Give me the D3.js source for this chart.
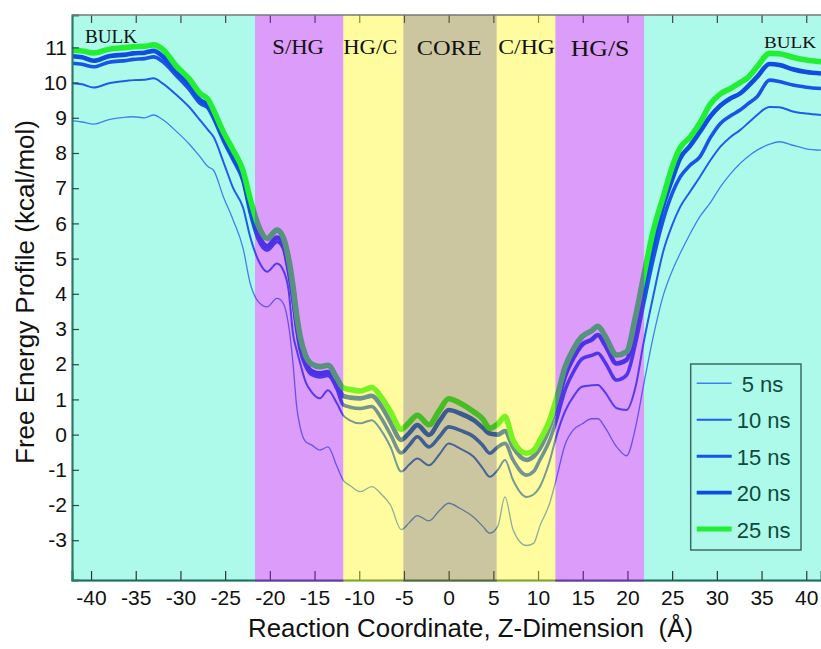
<!DOCTYPE html>
<html><head><meta charset="utf-8">
<script src="https://cdn.jsdelivr.net/npm/d3@7"></script>
<style>body{margin:0;background:#fff}</style>
</head><body>
<svg id="c" width="821" height="649"></svg>
<script>
// ---- data ----
const zCoord = [-42.13,-41,-39.7,-38,-36,-35.3,-34,-33,-32,-30.4,-29,-27.8,-26.9,-26.3,-25.2,-24.1,-23,-22.2,-21.3,-20.3,-19.2,-18.5,-17.9,-17.4,-17,-16.6,-16,-15.3,-14.4,-13.5,-12.5,-11.8,-11,-9.9,-8.6,-7.5,-6.5,-5.3,-4.4,-3.5,-2.2,-1,0,1.3,2.8,3.8,4.6,5.5,6.3,7.2,8.7,9.5,10.2,11.3,12.1,13,14,14.9,16,16.7,17.5,18.8,19.9,20.9,21.8,22.9,24,25,25.9,27,28.1,29.3,30.4,31.5,32.6,33.5,34.5,35.9,37,38.5,40,41.65];
const ns5 = [8.92,8.88,8.82,8.95,9.02,9.03,9.0,9.08,8.95,8.6,8.25,7.89,7.61,7.51,6.76,6.09,5.3,4.3,3.78,3.63,3.87,3.73,3.1,2.0,0.8,0.2,-0.2,-0.3,-0.44,-0.35,-0.9,-1.29,-1.45,-1.62,-1.48,-1.7,-2.0,-2.7,-2.5,-2.3,-2.45,-2.15,-1.95,-2.1,-2.35,-2.6,-2.8,-2.6,-1.77,-2.7,-3.15,-3.09,-2.6,-1.95,-1.2,-0.3,0.15,0.3,0.45,0.45,0.2,-0.35,-0.6,0.2,1.4,2.8,3.95,4.65,5.15,5.7,6.19,6.6,7.04,7.4,7.7,7.9,8.08,8.25,8.32,8.22,8.12,8.08];
const ns10 = [9.98,9.95,9.86,9.98,10.05,10.07,10.08,10.12,9.98,9.64,9.3,8.93,8.65,8.46,7.75,7.0,6.45,5.62,4.96,4.63,4.86,4.67,4.1,2.85,2.4,2.02,1.5,1.2,1.03,1.26,0.89,0.55,0.4,0.32,0.41,0.1,-0.35,-1.05,-0.85,-0.68,-0.87,-0.55,-0.25,-0.4,-0.63,-0.95,-1.2,-1.0,-0.72,-1.29,-1.77,-1.7,-1.48,-0.75,0.0,0.65,1.1,1.36,1.4,1.41,1.2,0.75,0.7,1.35,2.6,3.95,5.2,5.95,6.47,6.9,7.32,7.8,8.18,8.45,8.65,8.85,9.08,9.31,9.3,9.18,9.12,9.08];
const ns15 = [10.55,10.52,10.45,10.58,10.63,10.66,10.68,10.73,10.6,10.18,9.8,9.41,9.27,8.98,8.35,7.8,7.2,6.3,5.55,5.24,5.48,5.3,4.6,3.8,3.0,2.4,1.95,1.7,1.64,1.68,1.3,0.85,0.78,0.74,0.8,0.45,0.0,-0.52,-0.3,-0.06,-0.35,-0.05,0.22,0.12,-0.06,-0.3,-0.53,-0.35,-0.25,-0.72,-1.15,-1.05,-0.72,-0.16,0.45,1.25,1.8,2.15,2.25,2.31,2.05,1.55,1.69,2.59,3.7,5.0,6.1,6.85,7.32,7.65,7.89,8.45,8.84,9.05,9.22,9.4,9.6,10.07,10.03,9.93,9.87,9.83];
const ns20 = [10.75,10.72,10.62,10.75,10.8,10.83,10.85,10.9,10.75,10.31,9.95,9.5,9.38,9.08,8.45,7.9,7.3,6.45,5.7,5.35,5.6,5.4,4.75,3.95,3.15,2.55,2.05,1.8,1.74,1.78,1.45,1.1,1.05,1.03,1.1,0.8,0.35,-0.15,0.05,0.27,-0.01,0.4,0.7,0.6,0.41,0.2,0.03,0.0,0.1,-0.35,-0.72,-0.62,-0.39,0.22,0.85,1.65,2.2,2.55,2.7,2.83,2.55,2.02,2.12,2.97,4.1,5.4,6.5,7.25,7.85,8.2,8.6,9.05,9.35,9.55,9.69,9.9,10.16,10.53,10.5,10.38,10.3,10.26];
const ns25 = [10.92,10.9,10.84,10.95,11.0,11.02,11.03,11.07,10.95,10.45,10.1,9.69,9.52,9.22,8.6,8.08,7.5,6.7,5.95,5.57,5.81,5.6,5.0,4.2,3.4,2.78,2.25,2.0,1.93,1.97,1.6,1.33,1.28,1.24,1.34,1.05,0.65,0.15,0.35,0.55,0.28,0.7,1.02,0.89,0.65,0.45,0.18,0.3,0.51,-0.16,-0.53,-0.45,-0.16,0.41,1.05,1.9,2.45,2.78,2.95,3.08,2.8,2.26,2.35,3.35,4.48,5.8,6.75,7.6,8.15,8.45,8.85,9.4,9.68,9.83,10.0,10.15,10.45,10.83,10.82,10.72,10.64,10.59];

const seriesNames = ["5 ns","10 ns","15 ns","20 ns","25 ns"];
const seriesColors = ["#3d80f2","#1e5cf0","#1655e6","#0f4de0","#22ee33"];
const seriesWidths = [1.3,2,3.6,4.6,5.6];
const legendWidths = [1.4,1.8,3,3.8,5];

const xTicks = [-40,-35,-30,-25,-20,-15,-10,-5,0,5,10,15,20,25,30,35,40];
const yTicks = [-3,-2,-1,0,1,2,3,4,5,6,7,8,9,10,11];

const bulkBands = [[-42.13,-21.66],[21.86,41.65]];
const overlayBands = [
  {name:"S/HG", from:-21.66, to:-11.78, color:"#a808f0"},
  {name:"HG/C", from:-11.78, to:-5.07, color:"#fcf80c"},
  {name:"CORE", from:-5.07, to:5.38, color:"#807011"},
  {name:"C/HG", from:5.38, to:11.94, color:"#fcf80c"},
  {name:"HG/S", from:11.94, to:21.86, color:"#a808f0"}
];
const regionLabels = [
  {t:"BULK", x:85, y:42.7, fs:19, len:52},
  {t:"S/HG", x:272.3, y:54, fs:21, len:51.7},
  {t:"HG/C", x:343.3, y:54, fs:20, len:54},
  {t:"CORE", x:416.7, y:55, fs:22, len:65},
  {t:"C/HG", x:498.3, y:54, fs:21, len:56.7},
  {t:"HG/S", x:570.7, y:56, fs:24, len:58.7},
  {t:"BULK", x:764, y:48.3, fs:17.6, len:52}
];

// ---- layout ----
const L=72, R=821, T=15, B=580;
const svg = d3.select("#c");
const x = d3.scaleLinear().domain([-42.13,41.65]).range([L,R]);
const y = d3.scaleLinear().domain([-4.13,11.92]).range([B,T]);
const fmt = d => String(d);

svg.append("rect").attr("width",821).attr("height",649).attr("fill","#fff");
svg.append("defs").append("clipPath").attr("id","clip")
  .append("rect").attr("x",L).attr("y",T).attr("width",R-L).attr("height",B-T);

svg.selectAll("rect.bulk").data(bulkBands).join("rect").attr("class","bulk")
  .attr("x",d=>x(d[0])).attr("width",d=>x(d[1])-x(d[0]))
  .attr("y",T).attr("height",B-T+2).attr("fill","#aefaea");

const series = [ns5,ns10,ns15,ns20,ns25];
const line = d3.line().x((d,i)=>x(zCoord[i])).y(d=>y(d)).curve(d3.curveMonotoneX);
const lg = svg.append("g").attr("clip-path","url(#clip)");
series.forEach((s,k)=>{
  lg.append("path").attr("d",line(s)).attr("fill","none")
    .attr("stroke",seriesColors[k]).attr("stroke-width",seriesWidths[k])
    .attr("stroke-linejoin","round");
});

// axes
const gx = svg.append("g").attr("transform",`translate(0,${B})`)
  .call(d3.axisBottom(x).tickValues(xTicks).tickSize(-9).tickPadding(10).tickFormat(fmt));
gx.select(".domain").attr("stroke","#23695b").attr("stroke-width",2);
gx.selectAll(".tick line").attr("stroke","#333").attr("stroke-width",1.2);
gx.selectAll(".tick text").attr("font-family","Liberation Sans, Arial, sans-serif").attr("font-size",21).attr("fill","#111");

const gt = svg.append("g").attr("transform",`translate(0,${T})`)
  .call(d3.axisTop(x).tickValues(xTicks).tickSize(-8).tickFormat(""));
gt.select(".domain").remove();
gt.selectAll(".tick line").attr("stroke","#444").attr("stroke-width",1.2);

const gy = svg.append("g").attr("transform",`translate(${L},0)`)
  .call(d3.axisLeft(y).tickValues(yTicks).tickSize(-7).tickPadding(5).tickFormat(fmt));
gy.select(".domain").attr("stroke","#2b7a68").attr("stroke-width",2.2);
gy.selectAll(".tick line").attr("stroke","#2a4a44").attr("stroke-width",1.2);
gy.selectAll(".tick text").attr("font-family","Liberation Sans, Arial, sans-serif").attr("font-size",21).attr("fill","#111");

// translucent region overlays (on top of curves)
svg.selectAll("rect.ov").data(overlayBands).join("rect").attr("class","ov")
  .attr("x",d=>x(d.from)).attr("width",d=>x(d.to)-x(d.from))
  .attr("y",T).attr("height",B-T+2).attr("fill",d=>d.color).attr("fill-opacity",0.4);

// top border
svg.append("line").attr("x1",L).attr("x2",R).attr("y1",T).attr("y2",T)
  .attr("stroke","#777").attr("stroke-width",1.5);

// region labels
svg.selectAll("text.reg").data(regionLabels).join("text").attr("class","reg")
  .attr("x",d=>d.x).attr("y",d=>d.y).attr("font-size",d=>d.fs)
  .attr("textLength",d=>d.len).attr("lengthAdjust","spacingAndGlyphs")
  .attr("font-family","Liberation Serif, Times New Roman, serif").attr("fill","#111")
  .text(d=>d.t);

// axis titles
svg.append("text").attr("x",248).attr("y",637)
  .attr("font-family","Liberation Sans, Arial, sans-serif").attr("font-size",26)
  .attr("textLength",445).attr("lengthAdjust","spacingAndGlyphs").attr("fill","#111")
  .text("Reaction Coordinate, Z-Dimension\u00a0\u00a0(\u00c5)");
svg.append("text").attr("transform","translate(34,292) rotate(-90)").attr("text-anchor","middle")
  .attr("font-family","Liberation Sans, Arial, sans-serif").attr("font-size",26).attr("fill","#111")
  .text("Free Energy Profile (kcal/mol)");

// legend
const leg = svg.append("g");
leg.append("rect").attr("x",690.7).attr("y",364).attr("width",110.3).attr("height",186)
  .attr("fill","none").attr("stroke","#3d6b62").attr("stroke-width",1.5);
const legY = d3.scalePoint().domain(seriesNames).range([383.3,529]);
seriesNames.forEach((n,k)=>{
  leg.append("line").attr("x1",696.7).attr("x2",731.7).attr("y1",legY(n)).attr("y2",legY(n))
    .attr("stroke",seriesColors[k]).attr("stroke-width",legendWidths[k]);
  leg.append("text").attr("x",k===0?741.7:736.7).attr("y",legY(n)+8.5)
    .attr("font-family","Liberation Sans, Arial, sans-serif").attr("font-size",22)
    .attr("fill","#0f4a3c").text(n);
});
</script>
</body></html>
